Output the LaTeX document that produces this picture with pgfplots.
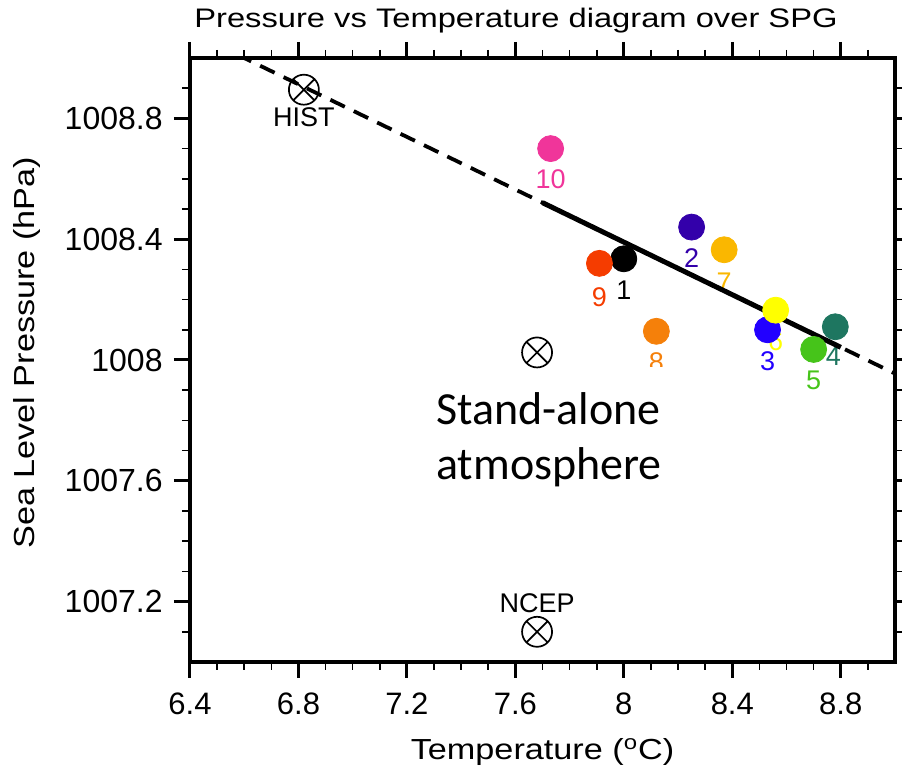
\documentclass[border=0pt]{standalone}
\usepackage{pgfplots}
\pgfplotsset{compat=1.18}
\usetikzlibrary{plotmarks}
\usepackage{fontspec}
\setmainfont{Liberation Sans}
\newfontfamily\titlefont[FakeStretch=1.22]{Liberation Sans}
\newfontfamily\labelfont[FakeStretch=1.18]{Liberation Sans}
\newfontfamily\calibri{Carlito}
\definecolor{cOne}{RGB}{0,0,0}
\definecolor{cTwo}{RGB}{51,0,170}
\definecolor{cThree}{RGB}{34,0,255}
\definecolor{cFour}{RGB}{30,118,96}
\definecolor{cFive}{RGB}{70,196,26}
\definecolor{cSix}{RGB}{255,255,0}
\definecolor{cSeven}{RGB}{250,183,0}
\definecolor{cEight}{RGB}{245,128,10}
\definecolor{cNine}{RGB}{245,60,0}
\definecolor{cTen}{RGB}{240,53,154}
\begin{document}
\begin{tikzpicture}
\begin{axis}[
  scale only axis, width=352.5pt, height=302pt,
  xmin=6.4, xmax=9.0, ymin=1007.0, ymax=1009.0,
  xtick={6.4,6.8,7.2,7.6,8.0,8.4,8.8},
  xticklabels={6.4,6.8,7.2,7.6,8,8.4,8.8},
  ytick={1007.2,1007.6,1008.0,1008.4,1008.8},
  yticklabels={1007.2,1007.6,1008,1008.4,1008.8},
  minor xtick={6.5,6.6,6.7,6.9,7.0,7.1,7.3,7.4,7.5,7.7,7.8,7.9,8.1,8.2,8.3,8.5,8.6,8.7,8.9},
  minor ytick={1007.1,1007.3,1007.4,1007.5,1007.7,1007.8,1007.9,1008.1,1008.2,1008.3,1008.5,1008.6,1008.7,1008.9},
  tick align=outside, tick pos=both,
  major tick length=8pt, minor tick length=4pt,
  major tick style={line width=1.5pt, black},
  minor tick style={line width=0.8pt, black},
  axis line style={line width=1.75pt},
  xticklabel style={font=\fontsize{15.5}{17}\selectfont, anchor=north, inner sep=0pt},
  yticklabel style={font=\fontsize{16}{18}\selectfont, anchor=east, inner sep=0pt},
  xticklabel shift=7pt, yticklabel shift=5.5pt,
  title={Pressure vs Temperature diagram over SPG},
  title style={font=\titlefont\fontsize{13.4}{15}\selectfont, at={(axis description cs:0.4624,1)}, anchor=base, yshift=9pt, inner sep=0pt},
  xlabel={Temperature (\textsuperscript{o}C)},
  xlabel style={font=\labelfont\fontsize{14.5}{16}\selectfont, at={(axis description cs:0.5,0)}, anchor=base, yshift=-49pt, inner sep=0pt},
  ylabel={Sea Level Pressure (hPa)},
  ylabel style={font=\labelfont\fontsize{14.5}{16}\selectfont, at={(axis description cs:-0.2199,0.512)}, anchor=base, rotate=0, inner sep=0pt},
]
% reference markers
\addplot[only marks, mark=otimes, mark size=7.5pt, mark options={line width=0.85pt}, black, forget plot] coordinates {(6.82,1008.895) (7.68,1007.10) (7.68,1008.025)};
% experiments 1..10
\addplot[only marks, mark=*, mark size=6.5pt, cOne, forget plot] coordinates {(8.00,1008.335)};
\addplot[only marks, mark=*, mark size=6.5pt, cTwo, forget plot] coordinates {(8.25,1008.44)};
\addplot[only marks, mark=*, mark size=6.5pt, cThree, forget plot] coordinates {(8.53,1008.10)};
\addplot[only marks, mark=*, mark size=6.5pt, cFour, forget plot] coordinates {(8.78,1008.11)};
\addplot[only marks, mark=*, mark size=6.5pt, cFive, forget plot] coordinates {(8.70,1008.035)};
\addplot[only marks, mark=*, mark size=6.5pt, cSix, forget plot] coordinates {(8.56,1008.165)};
\addplot[only marks, mark=*, mark size=6.5pt, cSeven, forget plot] coordinates {(8.37,1008.365)};
\addplot[only marks, mark=*, mark size=6.5pt, cEight, forget plot] coordinates {(8.12,1008.095)};
\addplot[only marks, mark=*, mark size=6.5pt, cNine, forget plot] coordinates {(7.91,1008.32)};
\addplot[only marks, mark=*, mark size=6.5pt, cTen, forget plot] coordinates {(7.73,1008.70)};
% labels
\addplot[draw=none, mark=none, forget plot] coordinates {(6.82,1008.895)} node[text=black, yshift=-14pt, font=\fontsize{13.5}{15}\selectfont, inner sep=0pt] {HIST};
\addplot[draw=none, mark=none, forget plot] coordinates {(7.68,1007.10)} node[text=black, yshift=14.5pt, font=\fontsize{13.5}{15}\selectfont, inner sep=0pt] {NCEP};
\addplot[draw=none, mark=none, forget plot] coordinates {(8.00,1008.335)} node[text=cOne, yshift=-15.5pt, font=\fontsize{13.5}{15}\selectfont, inner sep=0pt] {1};
\addplot[draw=none, mark=none, forget plot] coordinates {(8.25,1008.44)} node[text=cTwo, yshift=-15.5pt, font=\fontsize{13.5}{15}\selectfont, inner sep=0pt] {2};
\addplot[draw=none, mark=none, forget plot] coordinates {(8.53,1008.10)} node[text=cThree, yshift=-15.5pt, font=\fontsize{13.5}{15}\selectfont, inner sep=0pt] {3};
\addplot[draw=none, mark=none, forget plot] coordinates {(8.78,1008.11)} node[text=cFour, yshift=-14.5pt, xshift=-1pt, font=\fontsize{13.5}{15}\selectfont, inner sep=0pt] {4};
\addplot[draw=none, mark=none, forget plot] coordinates {(8.70,1008.035)} node[text=cFive, yshift=-15.5pt, font=\fontsize{13.5}{15}\selectfont, inner sep=0pt] {5};
\addplot[draw=none, mark=none, forget plot] coordinates {(8.56,1008.165)} node[text=cSix, yshift=-15.5pt, font=\fontsize{13.5}{15}\selectfont, inner sep=0pt] {6};
\addplot[draw=none, mark=none, forget plot] coordinates {(8.37,1008.365)} node[text=cSeven, yshift=-16pt, font=\fontsize{13.5}{15}\selectfont, inner sep=0pt] {7};
\addplot[draw=none, mark=none, forget plot] coordinates {(8.12,1008.095)} node[text=cEight, yshift=-15.5pt, font=\fontsize{13.5}{15}\selectfont, inner sep=0pt] {8};
\addplot[draw=none, mark=none, forget plot] coordinates {(7.91,1008.32)} node[text=cNine, yshift=-17pt, font=\fontsize{13.5}{15}\selectfont, inner sep=0pt] {9};
\addplot[draw=none, mark=none, forget plot] coordinates {(7.73,1008.70)} node[text=cTen, yshift=-15.5pt, font=\fontsize{13.5}{15}\selectfont, inner sep=0pt] {10};
% white text box
\node[fill=white, anchor=north west, minimum width=135pt, minimum height=70pt, inner sep=0pt] at (axis cs:7.2662,1007.9785) {};
\node[anchor=base west, inner sep=0pt, font=\calibri\fontsize{23}{27.5}\selectfont] at (axis cs:7.3067,1007.7848) {Stand-alone};
\node[anchor=base west, inner sep=0pt, font=\calibri\fontsize{23}{27.5}\selectfont] at (axis cs:7.3067,1007.605) {atmosphere};
% regression lines
\addplot[black, line width=1.9pt, dash pattern=on 8pt off 5pt, forget plot] coordinates {(6.4,1009.087) (9.0,1007.955)};
\addplot[black, line width=2.5pt, forget plot] coordinates {(7.70,1008.521) (8.80,1008.042)};
\end{axis}
\pgfresetboundingbox
\path[use as bounding box] (-95pt,-52pt) rectangle (356pt,331pt);
\end{tikzpicture}
\end{document}
